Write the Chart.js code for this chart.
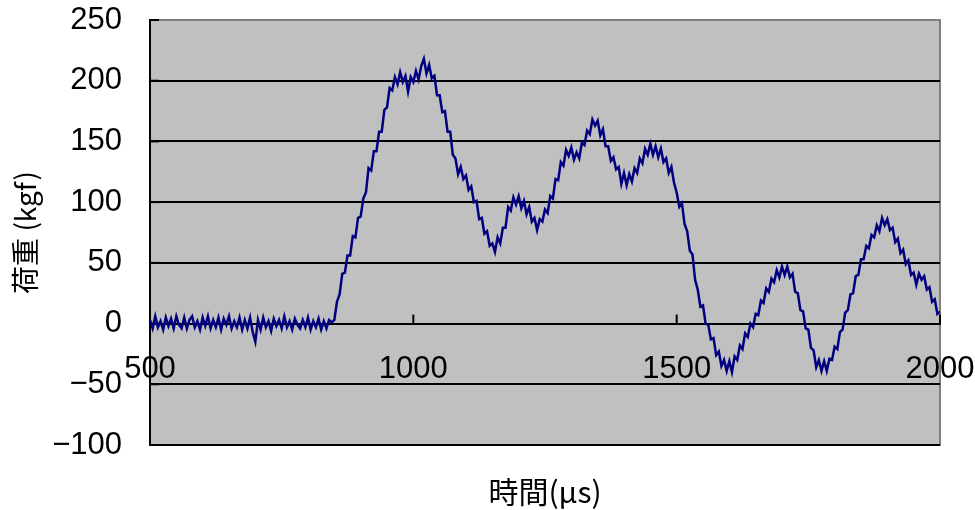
<!DOCTYPE html>
<html>
<head>
<meta charset="utf-8">
<script src="https://cdn.jsdelivr.net/npm/chart.js@4"></script>
<style>
  html, body { margin: 0; padding: 0; background: #fff; }
</style>
</head>
<body>
<canvas id="loadChart" width="975" height="510"></canvas>
<script>
// sampling grid of the record (µs)
const timeStart = 500;
const timeStep = 5;

// load readings (kgf), one every 5 µs from 500 to 2000
const load = [
    3, -4, 6, -3, 2, -5, 5, -2, 4, -4,            // 500
    6, -1, -4, 5, -4, 3, 6, -3, 2, -5,            // 550
    5, -2, 6, -4, 3, -3, 5, -5, 4, -1,            // 600
    6, -4, 2, -3, 5, -5, 3, -4, 5, -7,            // 650
    -15, 3, -5, 5, -3, 2, -6, 4, -2, 3,           // 700
    -4, 6, -3, 2, -5, 4, -1, -4, 3, -3,           // 750
    5, -5, 2, -3, 4, -5, 2, -4, 3, 1,             // 800
    3, 18, 24, 41, 42, 56, 56, 72, 71, 87,        // 850
    88, 103, 108, 128, 126, 142, 142, 158, 158, 176,  // 900
    178, 194, 192, 203, 197, 207, 199, 204, 191, 203, // 950
    199, 208, 201, 212, 218, 206, 213, 202, 204, 188, // 1000
    188, 174, 175, 158, 158, 139, 136, 123, 129, 119, // 1050
    122, 110, 113, 100, 101, 86, 87, 74, 76, 64,  // 1100
    66, 59, 71, 66, 79, 79, 96, 93, 104, 98,      // 1150
    105, 95, 101, 90, 96, 84, 87, 77, 86, 84,     // 1200
    94, 91, 105, 103, 119, 118, 133, 130, 143, 138,   // 1250
    145, 135, 141, 136, 149, 147, 159, 156, 168, 163, // 1300
    167, 155, 160, 146, 146, 134, 137, 127, 129, 115, // 1350
    124, 114, 123, 117, 128, 124, 136, 132, 144, 139, // 1400
    148, 139, 146, 137, 144, 133, 136, 124, 129, 116, // 1450
    108, 96, 99, 82, 76, 60, 57, 36, 28, 14,      // 1500
    15, 0, -1, -13, -12, -26, -23, -35, -30, -39, // 1550
    -31, -40, -27, -30, -18, -21, -8, -11, 0, -3, // 1600
    8, 7, 19, 17, 29, 26, 37, 34, 44, 38,         // 1650
    47, 40, 47, 38, 41, 26, 25, 11, 10, -4,       // 1700
    -5, -20, -22, -36, -30, -39, -31, -39, -29, -30,  // 1750
    -19, -21, -7, -5, 9, 11, 24, 25, 39, 40,      // 1800
    53, 53, 64, 62, 73, 71, 81, 76, 87, 81,       // 1850
    86, 77, 79, 67, 70, 58, 61, 49, 52, 40,       // 1900
    42, 32, 41, 36, 39, 28, 30, 18, 20, 8,        // 1950
    10                                            // 2000
];

const yTicks = [-100, -50, 0, 50, 100, 150, 200, 250];
const xTicks = [500, 1000, 1500, 2000];

const points = load.map((v, i) => ({ x: timeStart + i * timeStep, y: v }));

const numFont = { family: "'Liberation Sans', Arial, sans-serif", size: 31 };
const jpFont = { family: "'Noto Sans CJK JP', sans-serif", size: 28 };

// grey plot area, grey frame and the short inside tick marks
const plotFrame = {
    id: 'plotFrame',
    beforeDraw(chart) {
        const { ctx, chartArea: a } = chart;
        ctx.save();
        ctx.fillStyle = '#c0c0c0';
        ctx.fillRect(a.left, a.top, a.right - a.left, a.bottom - a.top);
        ctx.strokeStyle = '#808080';
        ctx.lineWidth = 2;
        ctx.strokeRect(a.left, a.top, a.right - a.left, a.bottom - a.top);
        ctx.restore();
    },
    beforeDatasetsDraw(chart) {
        const { ctx, scales: { x, y } } = chart;
        ctx.save();
        ctx.strokeStyle = '#000';
        ctx.lineWidth = 2;
        const y0 = y.getPixelForValue(0);
        xTicks.forEach(t => {
            const px = x.getPixelForValue(t);
            ctx.beginPath();
            ctx.moveTo(px, y0 - 9);
            ctx.lineTo(px, y0);
            ctx.stroke();
        });
        yTicks.forEach(t => {
            const py = y.getPixelForValue(t);
            ctx.beginPath();
            ctx.moveTo(x.left, py);
            ctx.lineTo(x.left + 9, py);
            ctx.stroke();
        });
        ctx.restore();
    }
};

new Chart(document.getElementById('loadChart').getContext('2d'), {
    type: 'line',
    data: {
        datasets: [{
            data: points,
            borderColor: '#000080',
            borderWidth: 2.5,
            pointRadius: 0,
            tension: 0,
            fill: false
        }]
    },
    options: {
        responsive: false,
        animation: false,
        layout: { padding: { top: 20, right: 35, left: 9, bottom: 0 } },
        plugins: {
            legend: { display: false },
            tooltip: { enabled: false },
            title: {
                display: true,
                position: 'bottom',
                fullSize: false,
                text: '時間(μs)',
                color: '#000',
                font: { family: jpFont.family, size: 30, weight: 'normal' },
                padding: { top: 29, bottom: 0 }
            }
        },
        scales: {
            x: {
                type: 'linear',
                position: { y: 0 },
                min: 500,
                max: 2000,
                afterBuildTicks: s => { s.ticks = xTicks.map(v => ({ value: v })); },
                afterFit: s => { s.paddingLeft = 0; s.paddingRight = 0; },
                ticks: {
                    color: '#000',
                    font: numFont,
                    padding: 27,
                    maxRotation: 0,
                    callback: v => String(v)
                },
                grid: { display: false, drawTicks: false },
                border: { display: true, color: '#000', width: 2 }
            },
            y: {
                min: -100,
                max: 250,
                afterBuildTicks: s => { s.ticks = yTicks.map(v => ({ value: v })); },
                afterFit: s => { s.width = 141; s.paddingTop = 0; s.paddingBottom = 0; },
                ticks: {
                    color: '#000',
                    font: numFont,
                    padding: 28,
                    callback: v => String(v).replace('-', '\u2212')
                },
                grid: {
                    color: c => (c.tick && c.tick.value === 250) ? 'rgba(0,0,0,0)' : '#000',
                    lineWidth: 2,
                    drawTicks: false
                },
                border: { display: true, color: '#000', width: 2 },
                title: {
                    display: true,
                    text: '荷重 (kgf)',
                    color: '#000',
                    font: jpFont,
                    padding: { top: 0, bottom: 0 }
                }
            }
        }
    },
    plugins: [plotFrame]
});
</script>
</body>
</html>
